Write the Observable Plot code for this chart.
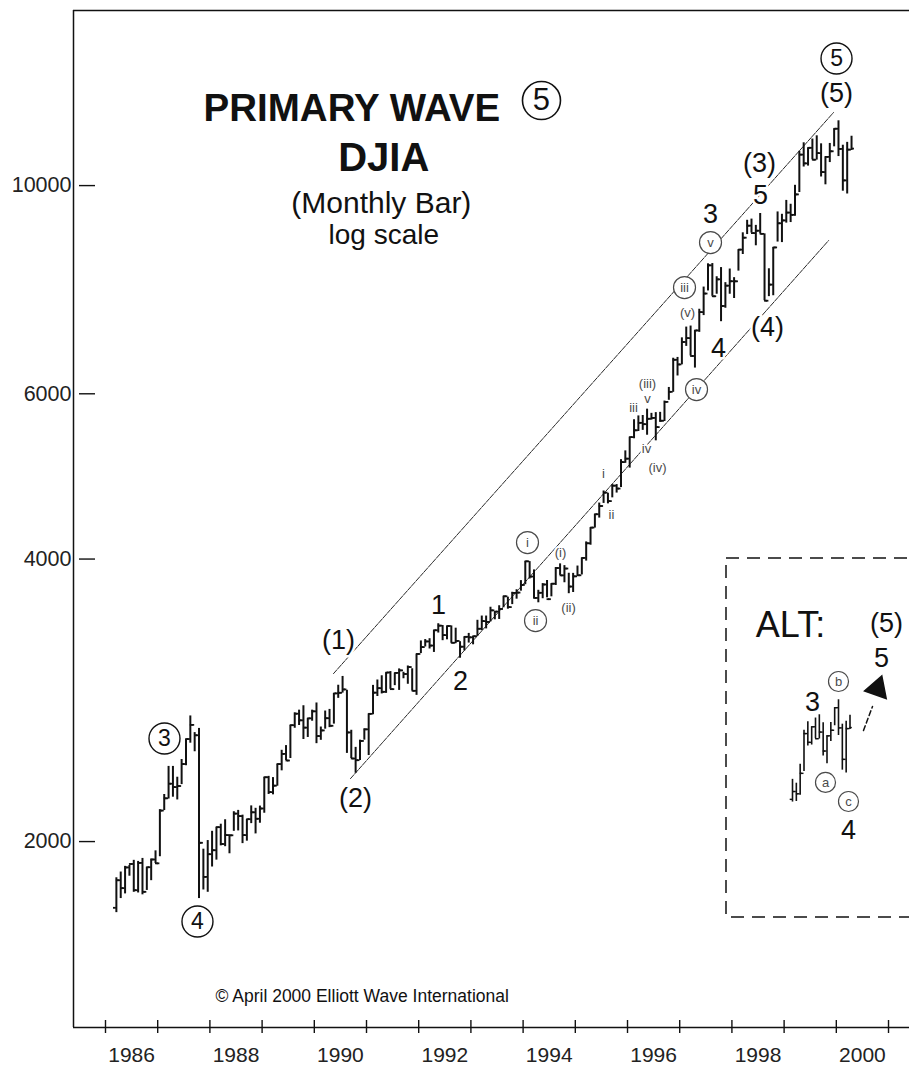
<!DOCTYPE html>
<html><head><meta charset="utf-8">
<script src="https://cdn.jsdelivr.net/npm/d3@7"></script>
<script src="https://cdn.jsdelivr.net/npm/@observablehq/plot@0.6"></script>
<style>
html,body{margin:0;padding:0;background:#fff;overflow:hidden;}
#wrap{position:relative;width:909px;height:1065px;}
#main{position:absolute;left:0;top:0;width:909px;height:1065px;}
#inset{position:absolute;left:724px;top:556px;width:200px;height:362px;}
svg{max-width:none !important;}
</style></head>
<body><div id="wrap"><div id="main"></div><div id="inset"></div></div>
<script>
// ---- DJIA monthly bars (closing basis), March 1986 .. April 2000 ----
const firstYear = 1986, firstMonth = 3, firstOpen = 1700;
const highs = [
  1830,1856,1882,1886,1910,1905,1919,1878,1916,1955,
  2163,2245,2405,2405,2342,2446,2572,2722,2613,2640,1963,2005,
  2051,2072,2087,2110,2033,2152,2159,2134,2112,2183,2170,2182,
  2342,2347,2340,2419,2502,2531,2661,2743,2761,2791,2706,2761,
  2810,2649,2755,2766,2876,2935,2999,2899,2628,2520,2565,2637,
  2736,2934,2973,3004,3027,3035,3024,3055,3030,3077,3056,3169,
  3272,3283,3290,3359,3413,3398,3393,3395,3376,3266,3305,3333,
  3310,3442,3478,3478,3554,3516,3567,3652,3643,3687,3710,3794,
  3978,3975,3895,3705,3766,3795,3765,3917,3953,3936,3863,3862,
  3932,4011,4172,4321,4465,4589,4727,4701,4801,4802,5105,5216,
  5395,5630,5683,5689,5778,5719,5729,5733,5894,6094,6547,6560,
  6883,7067,7085,7009,7383,7796,8254,8259,7996,8178,7881,8149,
  7978,8545,8906,9184,9211,9070,9338,8883,8154,8592,9374,9320,
  9643,9552,10007,10878,11107,10970,11209,11299,11079,10733,11089,11497,
  11723,11041,11119,11287
];
const lows = [
  1680,1739,1759,1837,1766,1763,1755,1774,1817,1895,
  1927,2158,2220,2230,2215,2300,2409,2546,2493,1739,1776,1766,
  1879,1911,1979,1975,1941,2051,2053,1990,2002,2090,2038,2092,
  2144,2245,2243,2291,2379,2440,2452,2641,2659,2569,2582,2687,
  2543,2564,2635,2645,2668,2842,2879,2483,2452,2365,2440,2565,
  2470,2730,2855,2873,2877,2906,2932,2898,2982,2942,2894,2863,
  3172,3224,3208,3181,3336,3274,3281,3254,3250,3136,3193,3255,
  3241,3309,3355,3370,3428,3446,3449,3549,3537,3577,3625,3697,
  3756,3809,3627,3593,3629,3637,3646,3749,3843,3774,3674,3685,
  3832,3847,3980,4138,4316,4423,4585,4580,4648,4703,4767,5059,
  5000,5373,5470,5485,5420,5624,5346,5594,5606,5905,6022,6268,
  6442,6740,6583,6391,6976,7269,7722,7622,7660,7161,7401,7660,
  7580,8107,8444,8868,8900,8627,8883,7539,7615,7632,8706,8695,
  9120,9133,9275,9832,10466,10490,10655,10646,10213,10019,10581,10998,
  10738,9863,9796,10900
];
const closes = [
  1819,1784,1877,1893,1775,1898,1768,1878,1914,1896,
  2158,2224,2305,2286,2292,2419,2572,2663,2596,1994,1834,1939,
  1958,2072,1988,2032,2031,2142,2129,2032,2113,2149,2115,2169,
  2342,2258,2294,2419,2480,2440,2661,2737,2693,2645,2706,2753,
  2591,2627,2707,2657,2877,2881,2905,2614,2452,2442,2560,2634,
  2736,2882,2914,2888,3028,2907,3025,3044,3017,3069,2895,3169,
  3223,3268,3235,3359,3397,3319,3394,3257,3272,3226,3305,3301,
  3310,3371,3435,3428,3527,3516,3539,3651,3555,3681,3684,3754,
  3978,3832,3636,3682,3758,3625,3765,3913,3843,3908,3739,3834,
  3844,4011,4158,4321,4465,4556,4708,4611,4789,4755,5074,5117,
  5395,5486,5587,5569,5643,5655,5529,5616,5882,6029,6522,6448,
  6813,6878,6583,7009,7331,7673,8223,7622,7945,7442,7823,7908,
  7907,8546,8800,9063,8900,8952,8883,7539,7843,8592,9117,9181,
  9359,9307,9786,10789,10560,10971,10655,10829,10337,10730,10878,11497,
  10941,10128,10922,10950
];

// axis ticks
const yTickValues = [2000, 4000, 6000, 10000];
const xTickYears = [1986,1987,1988,1989,1990,1991,1992,1993,1994,1995,1996,1997,1998,1999,2000,2001];
const xLabelYears = [1986,1988,1990,1992,1994,1996,1998,2000];

// channel lines (year, value)
const upperChannel = [{t: 1990.368, v: 3020}, {t: 1999.946, v: 11963}];
const lowerChannel = [{t: 1990.693, v: 2334}, {t: 1999.851, v: 8738}];

// wave labels (year, value)
const waveLabels = [
  {label: "(1)", t: 1990.464, v: 3274},
  {label: "(2)", t: 1990.789, v: 2222},
  {label: "1", t: 1992.379, v: 3568},
  {label: "2", t: 1992.801, v: 2962},
  {label: "3", t: 1997.590, v: 9315},
  {label: "4", t: 1997.743, v: 6704},
  {label: "(3)", t: 1998.529, v: 10555},
  {label: "5", t: 1998.548, v: 9759},
  {label: "(4)", t: 1998.682, v: 7058},
  {label: "(5)", t: 2000.004, v: 12535}
];
const bigCircled = [
  {label: "3", t: 1987.130, v: 2575},
  {label: "4", t: 1987.762, v: 1644},
  {label: "5", t: 2000.004, v: 13657}
];
const titleCircled = [{label: "5", t: 1994.352, v: 12321}];
const smallCircled = [
  {label: "i", t: 1994.084, v: 4165},
  {label: "ii", t: 1994.238, v: 3439},
  {label: "iii", t: 1997.092, v: 7787},
  {label: "v", t: 1997.590, v: 8696},
  {label: "iv", t: 1997.322, v: 6063}
];
const smallLabels = [
  {label: "(i)", t: 1994.716, v: 4064},
  {label: "(ii)", t: 1994.870, v: 3550},
  {label: "i", t: 1995.540, v: 4933},
  {label: "ii", t: 1995.693, v: 4462},
  {label: "iii", t: 1996.115, v: 5801},
  {label: "(iii)", t: 1996.383, v: 6152},
  {label: "v", t: 1996.383, v: 5930},
  {label: "iv", t: 1996.364, v: 5244},
  {label: "(iv)", t: 1996.575, v: 5006},
  {label: "(v)", t: 1997.149, v: 7325}
];
const titleBold = [
  {label: "PRIMARY WAVE", t: 1990.720, v: 12080, size: 38.5},
  {label: "DJIA", t: 1991.331, v: 10707, size: 40}
];
const titleNormal = [
  {label: "(Monthly Bar)", t: 1991.284, v: 9581, size: 30},
  {label: "log scale", t: 1991.331, v: 8847, size: 28}
];
const copyright = [{label: "\u00A9 April 2000 Elliott Wave International", t: 1988.107, v: 1368}];

// ALT inset labels
const altBigLabels = [
  {label: "(5)", t: 2001.085, v: 14135},
  {label: "5", t: 2000.977, v: 12970},
  {label: "3", t: 1999.477, v: 11645},
  {label: "4", t: 2000.259, v: 8506}
];
const altTitle = [{label: "ALT:", t: 1998.998, v: 14065}];
const altCircled = [
  {label: "b", t: 2000.042, v: 12261},
  {label: "a", t: 1999.759, v: 9570},
  {label: "c", t: 2000.259, v: 9133}
];
const altArrowShaft = [{t: 2000.585, v: 10871}, {t: 2000.781, v: 11531}];
const altArrowHead = [{t: 2000.890, v: 12051}];
const altStart = 1999;

// ---- build ----
const bars = highs.map((h, i) => {
  const m = firstMonth - 1 + i;
  return {t: firstYear + (m + 0.5) / 12, high: h, low: lows[i], close: closes[i], open: i ? closes[i - 1] : firstOpen};
});
const half = 1 / 18;
const FONT = "'Liberation Sans', Arial, Helvetica, sans-serif";
const INK = "#111";
const GREY = "#4a4a4a";

function barMarks(data, w, tick) {
  return [
    Plot.ruleX(data, {x: "t", y1: "low", y2: "high", stroke: INK, strokeWidth: w}),
    Plot.ruleY(data, {y: "open", x1: d => d.t - tick, x2: "t", stroke: INK, strokeWidth: w * 0.9}),
    Plot.ruleY(data, {y: "close", x1: "t", x2: d => d.t + tick, stroke: INK, strokeWidth: w * 0.9})
  ];
}

const xDomain = [1985.387, 2001.402];
const yDomain = [1267.4, 15366];

const main = Plot.plot({
  width: 909, height: 1065,
  marginTop: 10, marginBottom: 38, marginLeft: 73, marginRight: 0,
  x: {domain: xDomain, label: null},
  y: {type: "log", domain: yDomain, label: null},
  style: {fontFamily: FONT, background: "white", color: INK},
  marks: [
    Plot.ruleX([xDomain[0]], {stroke: INK, strokeWidth: 1.5}),
    Plot.ruleY([yDomain[1]], {stroke: INK, strokeWidth: 1.5}),
    Plot.ruleY([yDomain[0]], {stroke: INK, strokeWidth: 1.5}),
    Plot.axisY(yTickValues, {anchor: "left", tickSize: 16, dx: 22, text: null, strokeWidth: 1.4}),
    Plot.axisY(yTickValues, {anchor: "left", tickSize: 0, tickPadding: 2, tickFormat: d => String(d), fontSize: 21.5, fill: "#222"}),
    Plot.axisX(xTickYears, {anchor: "bottom", tickSize: 13, dy: -7, text: null, strokeWidth: 1.4}),
    Plot.axisX(xLabelYears.map(y => y + 0.5), {anchor: "bottom", tickSize: 0, tickPadding: 20, tickFormat: d => String(Math.floor(d)), fontSize: 21, fill: "#222"}),
    // channel lines
    Plot.line(upperChannel, {x: "t", y: "v", stroke: "#2a2a2a", strokeWidth: 1, strokeDasharray: "5,1.2"}),
    Plot.line(lowerChannel, {x: "t", y: "v", stroke: "#2a2a2a", strokeWidth: 1, strokeDasharray: "5,1.2"}),
    // halos to break lines around labels
    Plot.text(waveLabels, {x: "t", y: "v", text: "label", fontSize: 27, fill: "white", stroke: "white", strokeWidth: 5}),
    Plot.text(smallLabels, {x: "t", y: "v", text: "label", fontSize: 13, fill: "white", stroke: "white", strokeWidth: 4}),
    ...barMarks(bars, 2, half),
    // circles
    Plot.dot(bigCircled, {x: "t", y: "v", r: 15.5, fill: "white", stroke: INK, strokeWidth: 1.4}),
    Plot.text(bigCircled, {x: "t", y: "v", text: "label", fontSize: 23, fill: INK}),
    Plot.dot(titleCircled, {x: "t", y: "v", r: 19, fill: "white", stroke: INK, strokeWidth: 1.6}),
    Plot.text(titleCircled, {x: "t", y: "v", text: "label", fontSize: 31, fill: INK}),
    Plot.dot(smallCircled, {x: "t", y: "v", r: 11, fill: "white", stroke: GREY, strokeWidth: 1.2}),
    Plot.text(smallCircled, {x: "t", y: "v", text: "label", fontSize: 13, fill: GREY}),
    // labels
    Plot.text(waveLabels, {x: "t", y: "v", text: "label", fontSize: 27, fill: INK}),
    Plot.text(smallLabels, {x: "t", y: "v", text: "label", fontSize: 13, fill: GREY}),
    Plot.text(titleBold, {x: "t", y: "v", text: "label", fontSize: d => d.size, fontWeight: "bold", fill: INK}),
    Plot.text(titleNormal, {x: "t", y: "v", text: "label", fontSize: d => d.size, fill: INK}),
    Plot.text(copyright, {x: "t", y: "v", text: "label", fontSize: 17.5, textAnchor: "start", fill: INK})
  ]
});
document.getElementById("main").appendChild(main);

const altBars = bars.filter(d => d.t >= altStart);
const inset = Plot.plot({
  width: 200, height: 362, margin: 0,
  x: {domain: [1997.5634, 2001.9112], axis: null, label: null},
  y: {type: "log", domain: [6853, 16663], axis: null, label: null},
  style: {fontFamily: FONT, background: "transparent", color: INK, overflow: "visible"},
  marks: [
    Plot.frame({inset: 1.5, stroke: INK, strokeWidth: 1.5, strokeDasharray: "13,8"}),
    ...barMarks(altBars, 1.6, 1 / 20),
    Plot.line(altArrowShaft, {x: "t", y: "v", stroke: INK, strokeWidth: 1.5, strokeDasharray: "5,3"}),
    Plot.dot(altArrowHead, {x: "t", y: "v", symbol: "triangle", r: 8.5, fill: INK, stroke: INK, rotate: 19}),
    Plot.text(altTitle, {x: "t", y: "v", text: "label", fontSize: 36, fill: INK}),
    Plot.text(altBigLabels, {x: "t", y: "v", text: "label", fontSize: 27, fill: INK}),
    Plot.dot(altCircled, {x: "t", y: "v", r: 10, fill: "white", stroke: GREY, strokeWidth: 1.2}),
    Plot.text(altCircled, {x: "t", y: "v", text: "label", fontSize: 13, fill: GREY})
  ]
});
document.getElementById("inset").appendChild(inset);
</script>
</body></html>
